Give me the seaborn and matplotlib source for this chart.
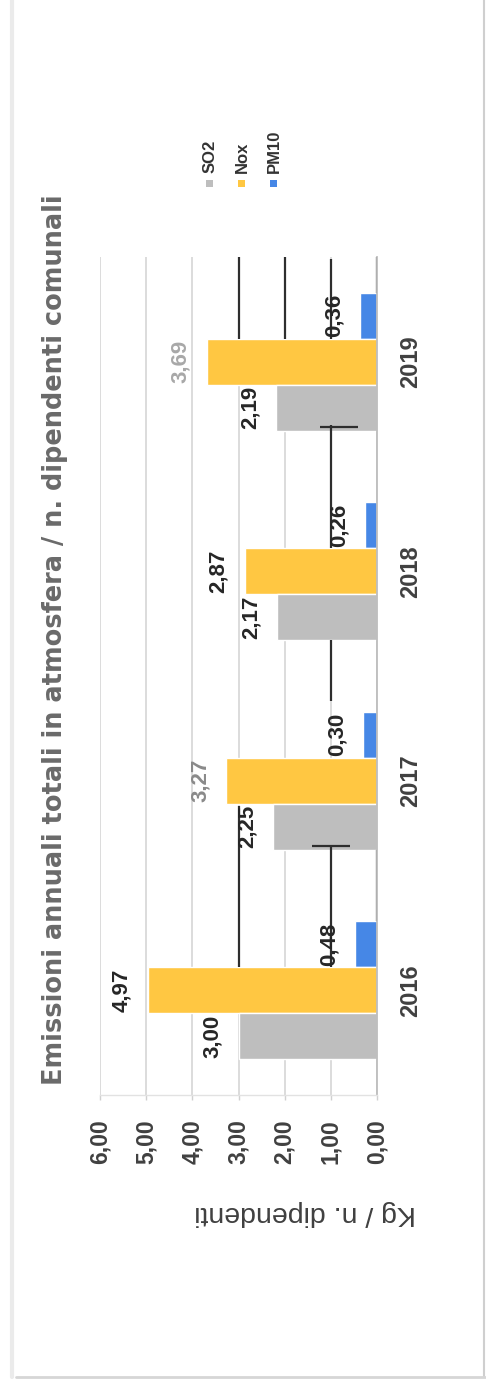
import numpy as np
import pandas as pd
import matplotlib
matplotlib.use("Agg")
import matplotlib.pyplot as plt
import seaborn as sns
from matplotlib.patches import Rectangle
from matplotlib.lines import Line2D

# ---- data -------------------------------------------------------------
years = ["2016", "2017", "2018", "2019"]
pollutants = ["SO2", "Nox", "PM10"]
so2 = [3.00, 2.25, 2.17, 2.19]
nox = [4.97, 3.27, 2.87, 3.69]
pm10 = [0.48, 0.30, 0.26, 0.36]
value_ticks = [0, 1, 2, 3, 4, 5, 6]

title = "Emissioni annuali totali in atmosfera / n. dipendenti comunali"
value_label = "Kg / n. dipendenti"

# ---- styling ----------------------------------------------------------
colors = {"SO2": "#BEBEBE", "Nox": "#FFC742", "PM10": "#4687E6"}
faded_labels = {("2019", "Nox"): "#a8a8a8", ("2017", "Nox"): "#8a8a8a"}
# darker guide strokes over parts of the grid: (value, y_from, y_to)
heavy_guides = [(3, -0.51, -0.11), (2, -0.51, -0.11), (1, -0.49, -0.11),
                (0, -0.51, -0.33), (1, 0.30, 0.89), (1, 1.33, 1.62),
                (3, 2.12, 2.89), (1, 2.31, 2.89), (0, 2.33, 2.67)]
heavy_ticks = [(0.31, 0.41, 1.23), (2.31, 0.58, 1.41)]


def fmt(v):
    return f"{v:.2f}".replace(".", ",")


records = []
for i, yr in enumerate(years):
    for p, vals in zip(pollutants, [so2, nox, pm10]):
        records.append({"anno": yr, "inquinante": p, "valore": vals[i]})
df = pd.DataFrame(records)

sns.set_theme(style="white")
plt.rcParams["font.family"] = ["Liberation Sans", "DejaVu Sans"]

W, H = 486, 1385
fig = plt.figure(figsize=(W / 100, H / 100), dpi=100)
fig.patch.set_facecolor("white")

# overlay in pixel units for page frame, title and legend
ov = fig.add_axes([0, 0, 1, 1], zorder=0)
ov.set_xlim(0, W)
ov.set_ylim(H, 0)
ov.axis("off")

ax = fig.add_axes([100 / W, 1 - 1095 / H, 277 / W, 838 / H], zorder=1)

sns.barplot(data=df, x="valore", y="anno", hue="inquinante",
            order=years[::-1], hue_order=pollutants[::-1],
            palette=colors, width=0.66, saturation=1, orient="h",
            errorbar=None, legend=False, ax=ax)

ax.set_xlim(6, 0)
ax.set_ylim(3.5, -0.5)

# value labels at the bar ends
for cont, p in zip(ax.containers, pollutants[::-1]):
    anns = ax.bar_label(cont, labels=[fmt(v) for v in cont.datavalues],
                        padding=11, rotation=90, fontsize=16,
                        fontweight="bold", color="#262626")
    for ann, yr in zip(anns, years[::-1]):
        if (yr, p) in faded_labels:
            ann.set_color(faded_labels[(yr, p)])

# grid and darker guide strokes
ax.grid(axis="x", color="#d9d9d9", lw=1.3)
ax.grid(axis="y", visible=False)
ax.set_axisbelow(True)
for v, y0, y1 in heavy_guides:
    ax.vlines(v, y0, y1, colors="#2e2e2e", lw=1.6, zorder=1.5)
for y, x0, x1 in heavy_ticks:
    ax.hlines(y, x0, x1, colors="#2e2e2e", lw=1.6, zorder=1.5)

# value axis (bottom)
ax.set_xticks(value_ticks)
ax.set_xticklabels([fmt(v) for v in value_ticks], rotation=90,
                   fontweight="bold", fontsize=16.5, color="#404040")
ax.tick_params(axis="x", bottom=True, length=3.6, width=1,
               color="#d0d0d0", pad=14)
ax.set_xlabel(value_label, rotation=180, fontsize=20.5, color="#404040",
              va="center", ha="center")
ax.xaxis.set_label_coords((305 - 100) / 277, -(1213 - 1095) / 838)

# category axis (right)
ax.yaxis.tick_right()
ax.set_yticks(range(len(years)))
ax.set_yticklabels(years[::-1], rotation=90, fontweight="bold",
                   fontsize=17, color="#404040", va="center")
ax.tick_params(axis="y", length=0, pad=16)
ax.set_ylabel("")

for s in ["top", "left"]:
    ax.spines[s].set_visible(False)
ax.spines["right"].set_color("#bdbdbd")
ax.spines["right"].set_linewidth(1.3)
ax.spines["bottom"].set_color("#e2e2e2")
ax.spines["bottom"].set_linewidth(1)

# title, sized so that it runs from y=195 to y=1085
ttl = ov.text(55, 640, title, rotation=90, ha="center", va="center",
              fontsize=20, fontweight="bold", color="#6a6a6a",
              family=["DejaVu Sans"])
renderer = fig.canvas.get_renderer()
ext = ttl.get_window_extent(renderer)
ttl.set_fontsize(20 * 890 / ext.height)

# legend
for p, lx in zip(pollutants, [209, 241, 273]):
    ov.add_patch(Rectangle((lx - 3.5, 179.5), 7, 7, color=colors[p], lw=0))
    ov.text(lx + 1, 173, p, rotation=90, ha="center", va="bottom",
            fontsize=12, fontweight="bold", color="#333333")

# page frame
ov.add_line(Line2D([12, 12], [0, 1377], color="#ebebeb", lw=3))
ov.add_line(Line2D([484, 484], [0, 1377], color="#cfcfcf", lw=1.5))
ov.add_line(Line2D([16, 486], [1377, 1377], color="#d6d6d6", lw=2))

fig.savefig("out.png", dpi=100, facecolor="white")
